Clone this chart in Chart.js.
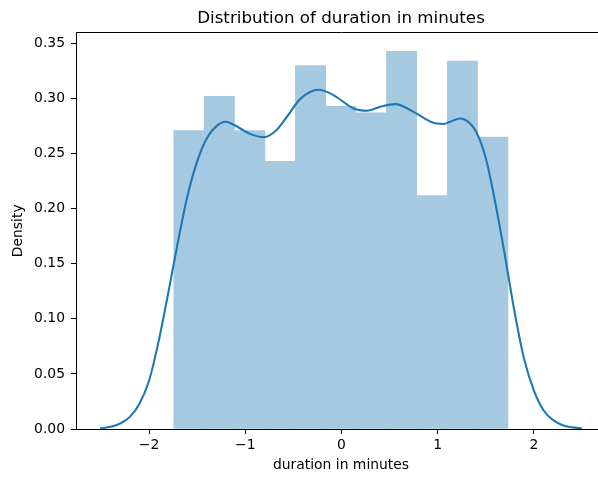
<!DOCTYPE html>
<html><head><meta charset="utf-8">
<script src="https://cdn.jsdelivr.net/npm/chart.js@4"></script>
<style>html,body{margin:0;padding:0;background:#fff;overflow:hidden;width:598px;height:477px;}</style>
</head><body>
<canvas id="c" width="606" height="477"></canvas>
<script>
// Histogram (bin centers and densities)
const binCenters = [-1.586, -1.270, -0.954, -0.638, -0.322, -0.007, 0.309, 0.625, 0.941, 1.257, 1.573];
const binDensities = [0.271, 0.302, 0.271, 0.243, 0.330, 0.293, 0.287, 0.343, 0.212, 0.334, 0.265];
// KDE curve
const kdeX = [-2.51, -2.40, -2.30, -2.20, -2.10, -2.00, -1.90, -1.80, -1.70, -1.60, -1.50, -1.40, -1.30, -1.20, -1.116, -0.95, -0.805, -0.68, -0.563, -0.425, -0.235, -0.08, 0.127, 0.266, 0.42, 0.560, 0.749, 0.956, 1.06, 1.13, 1.233, 1.30, 1.40, 1.50, 1.60, 1.70, 1.80, 1.90, 2.00, 2.10, 2.20, 2.30, 2.40, 2.50];
const kdeY = [0.0005, 0.002, 0.005, 0.011, 0.023, 0.044, 0.080, 0.124, 0.170, 0.212, 0.243, 0.264, 0.275, 0.279, 0.276, 0.268, 0.265, 0.271, 0.284, 0.300, 0.308, 0.303, 0.291, 0.289, 0.293, 0.295, 0.288, 0.278, 0.277, 0.279, 0.282, 0.280, 0.270, 0.246, 0.205, 0.157, 0.106, 0.063, 0.035, 0.017, 0.008, 0.0035, 0.0015, 0.0005];
// Tick labels
const xTickValues = [-2, -1, 0, 1, 2];
const xTickLabels = ['\u22122', '\u22121', '0', '1', '2'];
const yTickValues = [0, 0.05, 0.10, 0.15, 0.20, 0.25, 0.30, 0.35];
const yTickLabels = ['0.00', '0.05', '0.10', '0.15', '0.20', '0.25', '0.30', '0.35'];

const FONT = 'DejaVu Sans';
const tickFont = {family: FONT, size: 13.9};
const labelFont = {family: FONT, size: 13.9, lineHeight: 1.2};

new Chart(document.getElementById('c'), {
  type: 'bar',
  data: {
    datasets: [
      {
        type: 'line',
        data: kdeX.map((x, i) => ({x: x, y: kdeY[i]})),
        borderColor: '#1f77b4',
        borderWidth: 2.1,
        pointRadius: 0,
        fill: false,
        cubicInterpolationMode: 'monotone',
        order: 0
      },
      {
        type: 'bar',
        data: binCenters.map((x, i) => ({x: x, y: binDensities[i]})),
        backgroundColor: '#a5c9e1',
        borderWidth: 0,
        barPercentage: 1,
        categoryPercentage: 1,
        order: 1
      }
    ]
  },
  options: {
    responsive: false,
    devicePixelRatio: 1,
    animation: false,
    layout: {padding: 0},
    plugins: {
      legend: {display: false},
      tooltip: {enabled: false},
      title: {
        display: true,
        text: 'Distribution of duration in minutes',
        fullSize: false,
        color: '#000',
        font: {family: FONT, size: 16.7, weight: 'normal', lineHeight: 1.2},
        padding: {top: 8.2, bottom: 4.3}
      }
    },
    scales: {
      x: {
        type: 'linear',
        position: 'bottom',
        min: -2.76,
        max: 2.75,
        offset: false,
        grid: {offset: false, drawOnChartArea: false, drawTicks: true, tickLength: 5, color: '#000', tickColor: '#000', lineWidth: 1},
        border: {display: true, color: '#000', width: 1},
        ticks: {
          font: tickFont, color: '#000', padding: 3, maxRotation: 0, autoSkip: false,
          callback: (v) => { const i = xTickValues.indexOf(v); return i >= 0 ? xTickLabels[i] : ''; }
        },
        afterBuildTicks: (s) => { s.ticks = xTickValues.map(v => ({value: v})); },
        afterFit: (s) => { s.height = 48; },
        title: {display: true, text: 'duration in minutes', color: '#000', font: labelFont, padding: {top: 0, bottom: 2.8}}
      },
      x2: {
        type: 'linear',
        position: 'top',
        min: -2.76,
        max: 2.75,
        offset: false,
        grid: {offset: false, drawOnChartArea: false, drawTicks: false},
        border: {display: true, color: '#000', width: 1},
        ticks: {display: false},
        afterFit: (s) => { s.height = 0; }
      },
      y: {
        type: 'linear',
        min: 0,
        max: 0.36,
        grid: {drawOnChartArea: false, drawTicks: true, tickLength: 5, color: '#000', tickColor: '#000', lineWidth: 1},
        border: {display: true, color: '#000', width: 1},
        ticks: {
          font: tickFont, color: '#000', padding: 6, autoSkip: false,
          callback: (v) => { const i = yTickValues.findIndex(t => Math.abs(t - v) < 1e-9); return i >= 0 ? yTickLabels[i] : ''; }
        },
        afterBuildTicks: (s) => { s.ticks = yTickValues.map(v => ({value: v})); },
        afterFit: (s) => { s.width = 76; },
        title: {display: true, text: 'Density', color: '#000', font: labelFont, padding: {top: 10, bottom: 0}}
      }
    }
  }
});
</script>
</body></html>
